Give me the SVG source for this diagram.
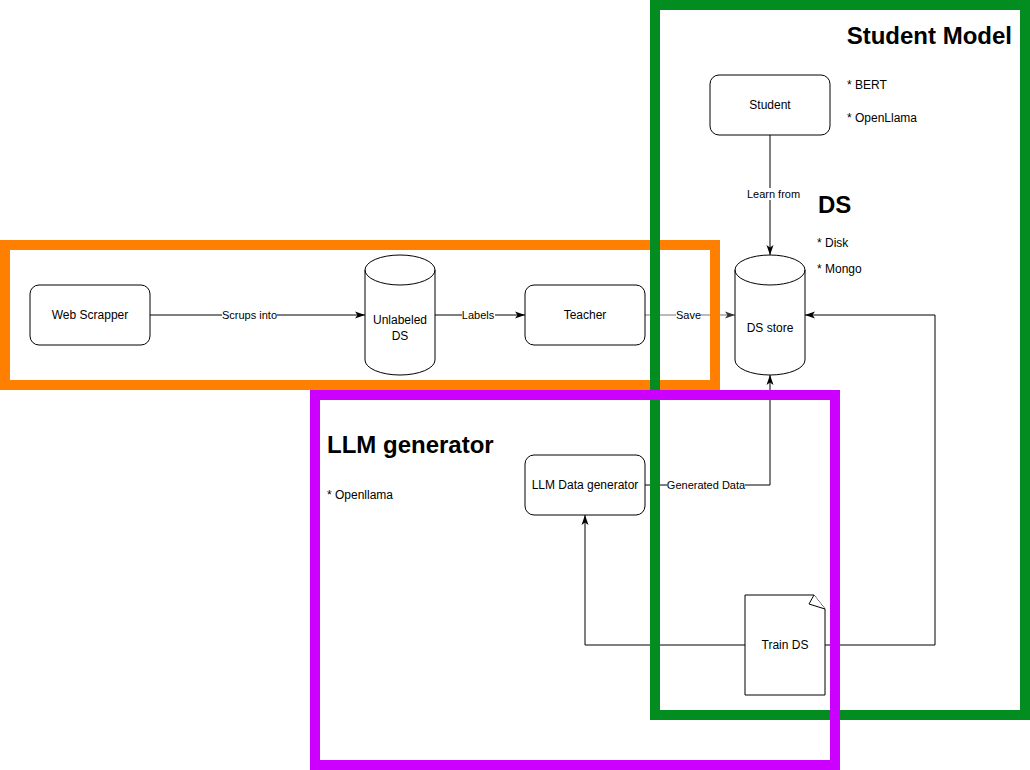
<svg xmlns="http://www.w3.org/2000/svg" width="1030" height="770" viewBox="0 0 1030 770">
<style>
.node{fill:#fff;stroke:#000;stroke-width:1}
.t{font-family:"Liberation Sans",Arial,sans-serif;font-size:12px;fill:#000}
.el{font-family:"Liberation Sans",Arial,sans-serif;font-size:11px;fill:#000}
.h{font-family:"Liberation Sans",Arial,sans-serif;font-size:24px;font-weight:bold;fill:#000}
.edge{fill:none;stroke:#000;stroke-width:1}
.lbg{fill:#fff}
.box{fill:none;stroke-width:10}
</style>
<defs>
<marker id="arr" markerUnits="userSpaceOnUse" markerWidth="11" markerHeight="9" refX="10" refY="4" orient="auto">
<path d="M0,0.5 L10,4 L0,7.5 L2.5,4 Z" fill="#000"/>
</marker>
<marker id="arrg" markerUnits="userSpaceOnUse" markerWidth="11" markerHeight="9" refX="10" refY="4" orient="auto">
<path d="M0,0.5 L10,4 L0,7.5 L2.5,4 Z" fill="#333"/>
</marker>
</defs>
<rect x="0" y="0" width="1030" height="770" fill="#fff"/>
<g id="connectors">
<path class="edge" d="M150,315 L365,315" marker-end="url(#arr)"/>
<path class="edge" d="M435,315 L525,315" marker-end="url(#arr)"/>
<path class="edge" d="M645,315 L735,315" style="stroke:#777" marker-end="url(#arrg)"/>
<path class="edge" d="M770,135 L770,255" marker-end="url(#arr)"/>
<path class="edge" d="M645,485 L770,485 L770,375" marker-end="url(#arr)"/>
<path class="edge" d="M745,645 L585,645 L585,515" marker-end="url(#arr)"/>
<path class="edge" d="M825,645 L935,645 L935,315 L805,315" marker-end="url(#arr)"/>
<rect class="lbg" x="222" y="309" width="55" height="12"/>
<text class="el" x="249.5" y="319" text-anchor="middle">Scrups into</text>
<rect class="lbg" x="462" y="309" width="33" height="12"/>
<text class="el" x="478" y="319" text-anchor="middle">Labels</text>
<rect class="lbg" x="676" y="309" width="25" height="12"/>
<text class="el" x="688.5" y="319" text-anchor="middle">Save</text>
<rect class="lbg" x="746" y="188" width="55" height="12"/>
<text class="el" x="773.5" y="198" text-anchor="middle">Learn from</text>
<rect class="lbg" x="667" y="479" width="78" height="12"/>
<text class="el" x="706" y="489" text-anchor="middle">Generated Data</text>
</g>
<g id="web-scrapper">
<rect class="node" x="30" y="285" width="120" height="60" rx="9"/>
<text class="t" x="90" y="319" text-anchor="middle">Web Scrapper</text>
</g>
<g id="unlabeled-ds">
<path class="node" d="M365,270 A35,15 0 0 1 435,270 L435,360 A35,15 0 0 1 365,360 Z"/>
<path class="edge" d="M365,270 A35,15 0 0 0 435,270"/>
<text class="t" x="400" y="324" text-anchor="middle">Unlabeled</text>
<text class="t" x="400" y="340" text-anchor="middle">DS</text>
</g>
<g id="teacher">
<rect class="node" x="525" y="285" width="120" height="60" rx="9"/>
<text class="t" x="585" y="319" text-anchor="middle">Teacher</text>
</g>
<g id="ds-store">
<path class="node" d="M735,270 A35,15 0 0 1 805,270 L805,360 A35,15 0 0 1 735,360 Z"/>
<path class="edge" d="M735,270 A35,15 0 0 0 805,270"/>
<text class="t" x="770" y="332" text-anchor="middle">DS store</text>
</g>
<g id="student">
<rect class="node" x="710" y="75" width="120" height="60" rx="9"/>
<text class="t" x="770" y="109" text-anchor="middle">Student</text>
</g>
<g id="llm-data-generator">
<rect class="node" x="525" y="455" width="120" height="60" rx="9"/>
<text class="t" x="585" y="489" text-anchor="middle">LLM Data generator</text>
</g>
<g id="train-ds">
<path class="node" d="M745,595 L814,595 L825,609 L825,695 L745,695 Z"/>
<path class="edge" d="M814,595 L809,604 L825,609" style="fill:#fff"/>
<text class="t" x="785" y="649" text-anchor="middle">Train DS</text>
</g>
<g id="student-notes">
<text class="t" x="847" y="89">* BERT</text>
<text class="t" x="847" y="122">* OpenLlama</text>
</g>
<g id="ds-title">
<text class="h" x="818" y="213">DS</text>
<text class="t" x="817" y="247">* Disk</text>
<text class="t" x="817" y="273">* Mongo</text>
</g>
<g id="orange-box">
<rect class="box" x="5" y="245" width="710" height="140" stroke="#FF8000"/>
</g>
<g id="student-model-box">
<rect class="box" x="655" y="5" width="370" height="710" stroke="#038C1F"/>
<text class="h" x="1012" y="44" text-anchor="end">Student Model</text>
</g>
<g id="llm-generator-box">
<rect class="box" x="315" y="395" width="520" height="370" stroke="#CC00FF"/>
<text class="h" x="327" y="453">LLM generator</text>
<text class="t" x="327" y="499">* Openllama</text>
</g>
</svg>
